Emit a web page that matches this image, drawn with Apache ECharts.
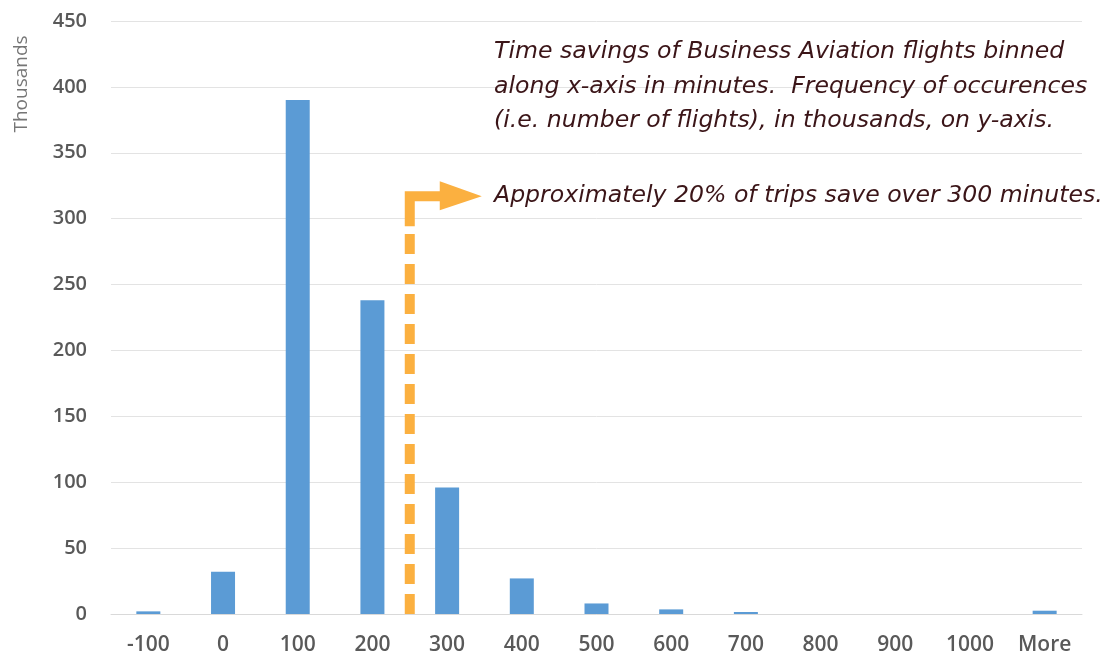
<!DOCTYPE html>
<html>
<head>
<meta charset="utf-8">
<script src="https://cdn.jsdelivr.net/npm/echarts@6/dist/echarts.min.js"></script>
<style>
	html, body { margin: 0; padding: 0; background: #fff; }
	#chart { width: 1104px; height: 662px; }
</style>
</head>
<body>
<div id="chart"></div>
<script>
// bins (minutes saved) and number of flights, in thousands
var bins = ['-100', '0', '100', '200', '300', '400', '500', '600', '700', '800', '900', '1000', 'More'];
var flights = [2, 32, 390, 238, 96, 27, 8, 3.5, 1.5, 0, 0, 0, 2.5];
var yTicks = [0, 50, 100, 150, 200, 250, 300, 350, 400, 450];

var noteLines = [
	'Time savings of Business Aviation flights binned',
	'along x-axis in minutes.  Frequency of occurences',
	'(i.e. number of flights), in thousands, on y-axis.'
];
var noteLast = 'Approximately 20% of trips save over 300 minutes.';
// the arrow goes up between these two bins, to this height
var arrowBetween = ['200', '300'];
var arrowTop = 317;

var dom = document.getElementById('chart');
var myChart = echarts.init(dom);

var option = {
	animation: false,
	grid: {
		left: 111,
		right: 22,
		top: 21,
		bottom: 48
	},
	xAxis: {
		type: 'category',
		data: bins,
		axisTick: { show: false },
		axisLine: {
			lineStyle: { color: '#d9d9d9', width: 1 }
		},
		axisLabel: {
			margin: 21,
			color: '#595959',
			fontFamily: 'Open Sans',
			fontWeight: 600,
			fontSize: 21
		}
	},
	yAxis: {
		type: 'value',
		min: yTicks[0],
		max: yTicks[yTicks.length - 1],
		interval: 50,
		axisTick: { show: false },
		axisLine: { show: false },
		splitLine: {
			lineStyle: { color: '#e3e3e3', width: 1 }
		},
		axisLabel: {
			margin: 24,
			color: '#595959',
			fontFamily: 'Open Sans',
			fontWeight: 600,
			fontSize: 20
		}
	},
	series: [{
		name: 'Flights',
		type: 'bar',
		data: flights,
		barWidth: 24,
		itemStyle: { color: '#5b9bd5' }
	}]
};

myChart.setOption(option);

// annotation: dashed arrow + note text
var xa = myChart.convertToPixel({ xAxisIndex: 0 }, arrowBetween[0]);
var xb = myChart.convertToPixel({ xAxisIndex: 0 }, arrowBetween[1]);
var ax = (xa + xb) / 2;
var y0 = myChart.convertToPixel({ yAxisIndex: 0 }, 0);
var yt = myChart.convertToPixel({ yAxisIndex: 0 }, arrowTop);
var orange = '#fbb040';
var textColor = '#3b1518';
var noteFont = 'italic 23.6px "DejaVu Sans"';

var graphics = [
	{
		type: 'line',
		shape: { x1: ax, y1: y0, x2: ax, y2: yt + 28 },
		style: { stroke: orange, lineWidth: 10, lineDash: [20, 10] }
	},
	{
		type: 'polyline',
		shape: { points: [[ax, yt + 30], [ax, yt], [ax + 32, yt]] },
		style: { stroke: orange, lineWidth: 10, fill: null, lineJoin: 'miter' }
	},
	{
		type: 'polygon',
		shape: { points: [[ax + 30, yt - 15], [ax + 72, yt], [ax + 30, yt + 14]] },
		style: { fill: orange }
	},
	{
		type: 'text',
		x: 22,
		y: 84,
		rotation: Math.PI / 2,
		style: {
			text: 'Thousands',
			fill: '#767676',
			font: '19px "Open Sans"',
			align: 'center',
			verticalAlign: 'middle'
		}
	}
];

noteLines.forEach(function(line, i) {
	graphics.push({
		type: 'text',
		x: 494,
		y: 52 + i * 34.5,
		style: {
			text: line,
			fill: textColor,
			font: noteFont,
			verticalAlign: 'middle'
		}
	});
});
graphics.push({
	type: 'text',
	x: 494,
	y: yt,
	style: {
		text: noteLast,
		fill: textColor,
		font: noteFont,
		verticalAlign: 'middle'
	}
});

myChart.setOption({ graphic: graphics });
</script>
</body>
</html>
